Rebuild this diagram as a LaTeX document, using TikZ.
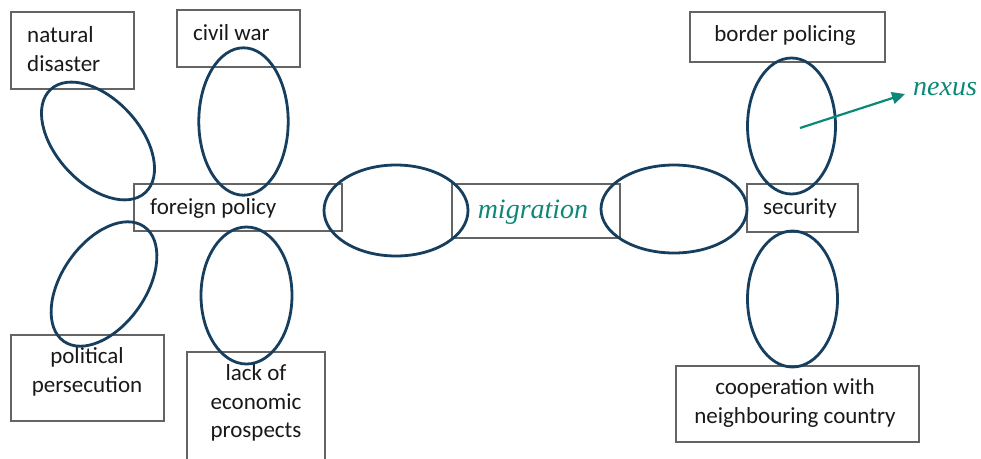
\documentclass[tikz,border=0pt]{standalone}
\usepackage{fontspec}
\setmainfont{Carlito}
\newfontfamily\accentfont{Liberation Serif}
\usetikzlibrary{arrows.meta}

\definecolor{loopblue}{RGB}{22,62,95}
\definecolor{accentteal}{RGB}{12,136,120}
\definecolor{framegray}{RGB}{100,100,100}

\tikzset{
  frame/.style={draw=framegray, line width=1.4pt, rectangle, inner sep=0pt},
  lbl/.style={inner sep=0pt, font=\fontsize{23}{28.5}\selectfont, text=black!90},
  loop/.style={draw=loopblue, line width=2.8pt},
  accent/.style={inner sep=0pt, font=\accentfont\itshape\fontsize{28}{32}\selectfont, text=accentteal},
  pointer/.style={draw=accentteal, line width=2.2pt, -{Triangle[length=13pt,width=12pt]}}
}

\begin{document}
\begin{tikzpicture}[x=1pt, y=-1pt]
\clip (0,0) rectangle (981,458);
\fill[white] (0,0) rectangle (981,458);

% frames
\node[frame, minimum width=123pt, minimum height=77pt] (natural) at (72.5,50.5) {};
\node[frame, minimum width=123pt, minimum height=57pt] (civil) at (238.5,38.5) {};
\node[frame, minimum width=208pt, minimum height=47pt] (foreign) at (238,207.5) {};
\node[frame, minimum width=153pt, minimum height=86pt] (political) at (87.5,378) {};
\node[frame, minimum width=138pt, minimum height=118pt] (lack) at (256,411) {};
\node[frame, minimum width=168pt, minimum height=54pt] (migration) at (536,211) {};
\node[frame, minimum width=195pt, minimum height=50pt] (border) at (787.5,37) {};
\node[frame, minimum width=111pt, minimum height=48pt] (security) at (802.5,208) {};
\node[frame, minimum width=243pt, minimum height=76pt] (coop) at (797.5,404) {};

% texts
\node[lbl, anchor=west, align=left] (t-natural) at (27,49) {natural\\disaster};
\node[lbl, anchor=west] (t-civil) at (193,33) {civil war};
\node[lbl, anchor=west] (t-foreign) at (150,208) {foreign policy};
\node[lbl, align=center] (t-political) at (87,372) {political\\persecution};
\node[lbl, align=center] (t-lack) at (256,403) {lack of\\economic\\prospects};
\node[accent] (t-migration) at (533,212) {migration};
\node[lbl] (t-border) at (785,35) {border policing};
\node[lbl] (t-security) at (800,208) {security};
\node[lbl, align=center] (t-coop) at (795,403) {cooperation with\\neighbouring country};

% loops
\coordinate (c-natural) at (98,141);
\coordinate (c-political) at (104,284);
\coordinate (c-civil) at (243.5,121.5);
\coordinate (c-lack) at (246.5,295.5);
\coordinate (c-left) at (396,210.5);
\coordinate (c-right) at (674,209);
\coordinate (c-border) at (791.5,126);
\coordinate (c-coop) at (792.5,299);

\draw[loop, rotate around={-47.5:(c-natural)}] (c-natural) ellipse [x radius=70pt, y radius=42pt];
\draw[loop, rotate around={55:(c-political)}] (c-political) ellipse [x radius=70pt, y radius=42pt];
\draw[loop] (c-civil) ellipse [x radius=44.7pt, y radius=73.7pt];
\draw[loop] (c-lack) ellipse [x radius=45.5pt, y radius=68.5pt];
\draw[loop] (c-left) ellipse [x radius=72pt, y radius=45.5pt];
\draw[loop] (c-right) ellipse [x radius=73pt, y radius=44pt];
\draw[loop] (c-border) ellipse [x radius=44pt, y radius=68pt];
\draw[loop] (c-coop) ellipse [x radius=45pt, y radius=68pt];

% nexus pointer
\node[accent, anchor=west] (nexus) at (913,89) {nexus};
\coordinate (nexus-from) at (800,128);
\draw[pointer] (nexus-from) -- ([xshift=-8pt,yshift=-5pt]nexus.west);
\end{tikzpicture}
\end{document}
